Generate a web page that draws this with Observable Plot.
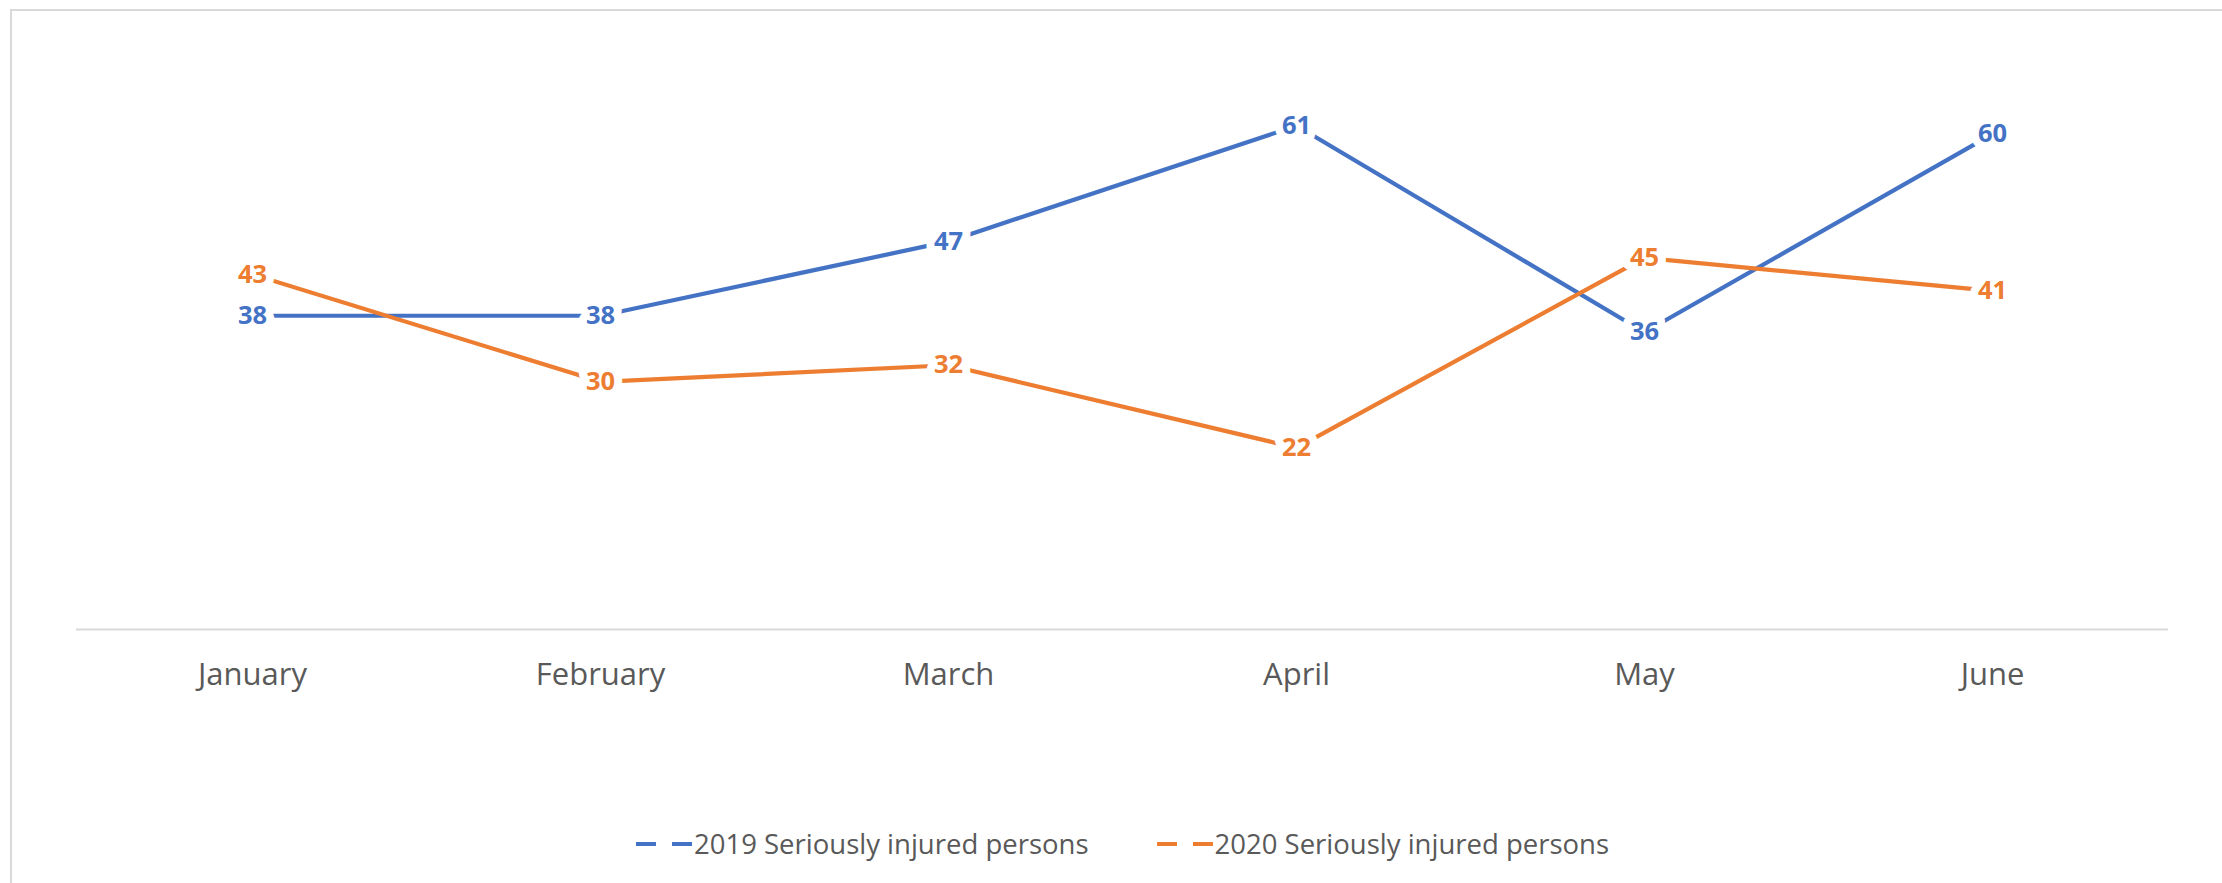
<!DOCTYPE html>
<html>
<head>
<meta charset="utf-8">
<script src="https://cdn.jsdelivr.net/npm/d3@7"></script>
<script src="https://cdn.jsdelivr.net/npm/@observablehq/plot@0.6"></script>
<style>
  html, body { margin: 0; padding: 0; background: #fff; width: 2222px; height: 883px; overflow: hidden; }
  #frame { position: absolute; left: 10px; top: 9px; width: 2400px; height: 1000px; border: 2px solid #d9d9d9; box-sizing: border-box; }
  #chart { position: absolute; left: 0; top: 0; }
  #legend { position: absolute; left: 636px; top: 825px; display: flex; align-items: center; font-family: "Open Sans", sans-serif; font-size: 27.5px; color: #595959; white-space: nowrap; }
  .item { display: flex; align-items: center; }
  .item svg { margin-right: 2px; }
</style>
</head>
<body>
<div id="frame"></div>
<div id="chart"></div>
<div id="legend"></div>
<script>
const months = ["January", "February", "March", "April", "May", "June"];
const series2019 = [38, 38, 47, 61, 36, 60];
const series2020 = [43, 30, 32, 22, 45, 41];
const seriesNames = ["2019 Seriously injured persons", "2020 Seriously injured persons"];
const seriesColors = ["#4472C4", "#ED7D31"];

const rows = [];
[series2019, series2020].forEach((vals, s) => {
  vals.forEach((v, i) => rows.push({ month: months[i], value: v, series: seriesNames[s] }));
});

const chart = Plot.plot({
  width: 2222,
  height: 760,
  marginLeft: 76,
  marginRight: 54,
  marginTop: 51,
  marginBottom: 131,
  style: { fontFamily: "Open Sans, sans-serif", background: "transparent" },
  x: { type: "point", domain: months, padding: 0.5, label: null },
  y: { domain: [0, 70], axis: null },
  color: { domain: seriesNames, range: seriesColors },
  marks: [
    Plot.ruleY([0], { stroke: "#d9d9d9", strokeWidth: 2 }),
    Plot.axisX({ tickSize: 0, tickPadding: 33, fontSize: 31, fill: "#595959", label: null }),
    Plot.line(rows, { x: "month", y: "value", z: "series", stroke: "series", strokeWidth: 4.2 }),
    Plot.text(rows, {
      x: "month", y: "value", text: d => String(d.value), fill: "series",
      fontSize: 25.5, fontWeight: "bold", stroke: "white", strokeWidth: 16
    })
  ]
});
document.getElementById("chart").appendChild(chart);

const legend = document.getElementById("legend");
seriesNames.forEach((name, i) => {
  const item = document.createElement("div");
  item.className = "item";
  if (i > 0) item.style.marginLeft = "68px";
  item.innerHTML = `<svg width="56" height="10"><line x1="0" y1="5" x2="56" y2="5" stroke="${seriesColors[i]}" stroke-width="4" stroke-dasharray="20 16"/></svg><span>${name}</span>`;
  legend.appendChild(item);
});
</script>
</body>
</html>
